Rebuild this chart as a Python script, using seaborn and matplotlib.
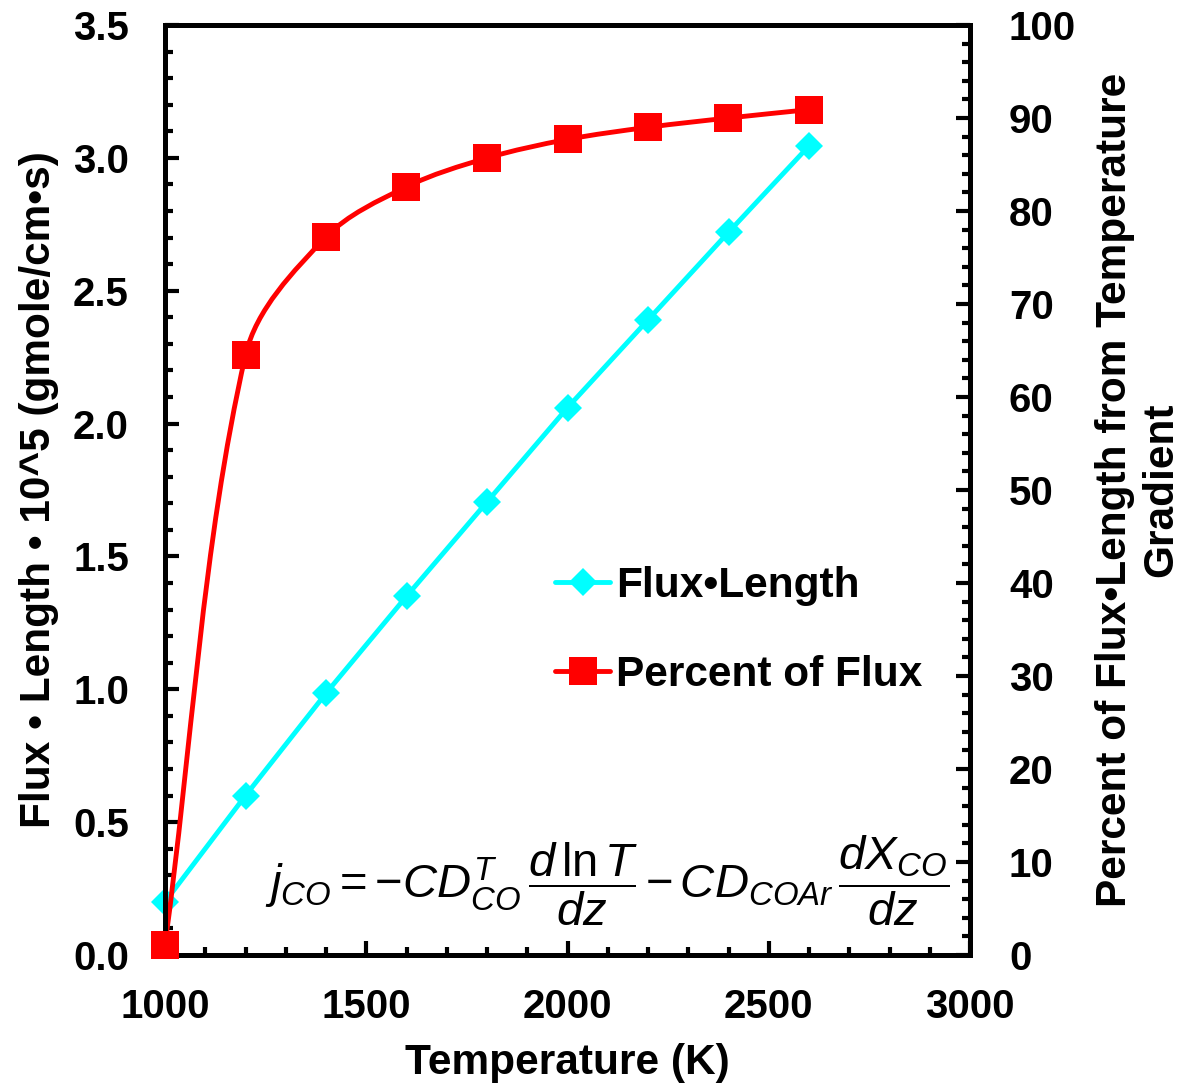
import numpy as np
import pandas as pd
import matplotlib
matplotlib.use("Agg")
import matplotlib.pyplot as plt
import seaborn as sns
from matplotlib import font_manager
from matplotlib.path import Path
from matplotlib.patches import PathPatch
from matplotlib.ticker import MultipleLocator, FormatStrFormatter
from matplotlib.lines import Line2D

# ---- data ----
temperature = [1000, 1200, 1400, 1600, 1800, 2000, 2200, 2400, 2600]
flux_length = [0.20, 0.60, 0.985, 1.35, 1.705, 2.06, 2.39, 2.72, 3.045]
percent_flux = [1.1, 64.5, 77.2, 82.6, 85.7, 87.7, 89.0, 90.0, 90.9]
legend_labels = ["Flux\u2022Length", "Percent of Flux"]
x_label = "Temperature (K)"
y_label = "Flux \u2022 Length \u2022 10^5 (gmole/cm\u2022s)"
y2_label = "Percent of Flux\u2022Length from Temperature\nGradient"

df = pd.DataFrame({"T": temperature, "flux": flux_length, "pct": percent_flux})

sns.set_theme(style="ticks")
plt.rcParams["font.family"] = ["Liberation Sans", "DejaVu Sans"]
plt.rcParams["text.color"] = "black"
plt.rcParams["axes.labelcolor"] = "black"

available = {f.name for f in font_manager.fontManager.ttflist}
if "Liberation Sans Narrow" in available:
    math_family = "Liberation Sans Narrow"
    formula_size = 39
else:
    math_family = "Liberation Sans"
    formula_size = 34
plt.rcParams["mathtext.fontset"] = "custom"
plt.rcParams["mathtext.rm"] = f"{math_family}:normal"
plt.rcParams["mathtext.it"] = f"{math_family}:italic:normal"

CYAN = "#00FFFF"
RED = "#FF0000"
FS_TICK = 29
FS_LAB = 30.5

fig = plt.figure(figsize=(11.8, 10.86), dpi=100)
ax = fig.add_axes([165 / 1180, 1 - 955 / 1086, (970 - 165) / 1180, (955 - 25) / 1086])
ax2 = ax.twinx()

ax.set_xlim(1000, 3000)
ax.set_ylim(0, 3.5)
ax2.set_ylim(0, 100)

sns.lineplot(data=df, x="T", y="flux", ax=ax, color=CYAN, linewidth=3.5,
             marker="D", markersize=14, markeredgewidth=0, clip_on=False)


def smooth_path(axis, x, y):
    """Excel-like smoothed line: cubic Bezier segments, tangents scaled by
    neighbouring segment lengths in screen space."""
    trans = axis.transData
    pts = trans.transform(np.column_stack([x, y]).astype(float))
    n = len(pts)
    verts = [pts[0]]
    codes = [Path.MOVETO]
    for i in range(n - 1):
        p0 = pts[i - 1] if i > 0 else pts[i]
        p1 = pts[i]
        p2 = pts[i + 1]
        p3 = pts[i + 2] if i + 2 < n else pts[i + 1]
        d01 = np.hypot(*(p1 - p0))
        d12 = np.hypot(*(p2 - p1))
        d23 = np.hypot(*(p3 - p2))
        c1 = p1 + (p2 - p0) * (d12 / (d01 + d12)) / 3.0
        c2 = p2 - (p3 - p1) * (d12 / (d12 + d23)) / 3.0
        verts += [c1, c2, p2]
        codes += [Path.CURVE4] * 3
    verts = trans.inverted().transform(np.array(verts))
    return Path(verts, codes)


ax2.add_patch(PathPatch(smooth_path(ax2, df["T"], df["pct"]), facecolor="none",
                        edgecolor=RED, linewidth=3.5, clip_on=False))
sns.scatterplot(data=df, x="T", y="pct", ax=ax2, color=RED, marker="s",
                s=20 ** 2, linewidth=0, clip_on=False, zorder=5)

ax.xaxis.set_major_locator(MultipleLocator(500))
ax.xaxis.set_minor_locator(MultipleLocator(100))
ax.yaxis.set_major_locator(MultipleLocator(0.5))
ax.yaxis.set_minor_locator(MultipleLocator(0.1))
ax.yaxis.set_major_formatter(FormatStrFormatter("%.1f"))
ax2.yaxis.set_major_locator(MultipleLocator(10))
ax2.yaxis.set_minor_locator(MultipleLocator(2))

for a in (ax, ax2):
    for s in a.spines.values():
        s.set_linewidth(3.6)
        s.set_color("black")
    a.tick_params(which="major", direction="in", length=10, width=3,
                  labelsize=FS_TICK, colors="black")
    a.tick_params(which="minor", direction="in", length=6, width=3, colors="black")
    a.grid(False)

ax.tick_params(axis="x", pad=24)
ax.tick_params(axis="y", pad=26)
ax2.tick_params(axis="y", pad=28)
for lbl in ax.get_xticklabels() + ax.get_yticklabels() + ax2.get_yticklabels():
    lbl.set_fontweight("bold")

ax.set_xlabel(x_label, fontsize=FS_LAB, fontweight="bold", labelpad=12)
ax.set_ylabel(y_label, fontsize=FS_LAB, fontweight="bold", labelpad=10)
ax2.set_ylabel(y2_label, fontsize=FS_LAB, fontweight="bold", labelpad=14)

handles = [
    Line2D([], [], color=CYAN, linewidth=3.5, marker="D", markersize=14, markeredgewidth=0),
    Line2D([], [], color=RED, linewidth=3.5, marker="s", markersize=20, markeredgewidth=0),
]
leg = ax2.legend(handles, legend_labels, loc="upper left",
                 bbox_to_anchor=(555 / 1180, 1 - 566 / 1086), bbox_transform=fig.transFigure,
                 frameon=False, fontsize=FS_LAB, handlelength=1.3, handletextpad=0.15,
                 borderpad=0, borderaxespad=0, labelspacing=1.15, markerscale=1.0)
for t in leg.get_texts():
    t.set_fontweight("bold")
    t.set_color("black")

formula = (r"$j_{CO}={-}CD_{CO}^{T}\,\dfrac{d\,\mathrm{ln}\,T}{dz}\,{-}\,"
           r"CD_{COAr}\,\dfrac{dX_{CO}}{dz}$")
ax2.text(0.549, 0.08, formula, transform=ax2.transAxes, ha="center", va="center",
         fontsize=formula_size, fontweight="normal", color="black")

fig.savefig("out.png", dpi=100, facecolor="white")
